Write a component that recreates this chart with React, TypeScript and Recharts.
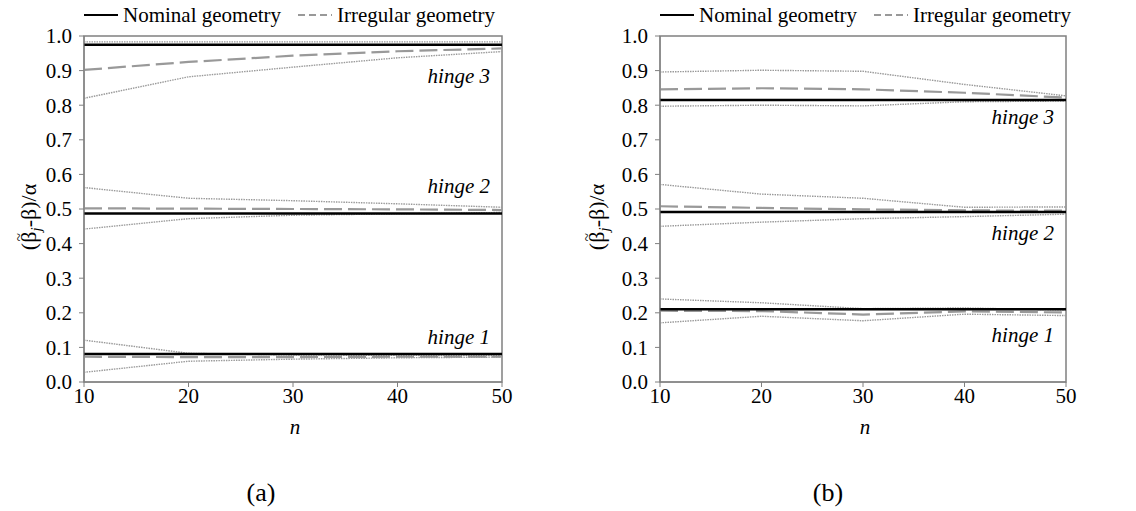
import React from 'react';
import { LineChart, Line, XAxis, YAxis, Legend, ReferenceArea, ReferenceDot } from 'recharts';

const nValues = [10, 20, 30, 40, 50];
const yTicks = [0, 0.1, 0.2, 0.3, 0.4, 0.5, 0.6, 0.7, 0.8, 0.9, 1.0];

// (a)
const aH1Nominal = [0.081, 0.081, 0.081, 0.081, 0.081];
const aH1Irregular = [0.073, 0.072, 0.072, 0.073, 0.073];
const aH1Upper = [0.121, 0.083, 0.078, 0.077, 0.076];
const aH1Lower = [0.028, 0.06, 0.066, 0.07, 0.072];
const aH2Nominal = [0.487, 0.487, 0.487, 0.487, 0.487];
const aH2Irregular = [0.502, 0.501, 0.5, 0.499, 0.497];
const aH2Upper = [0.562, 0.531, 0.524, 0.515, 0.505];
const aH2Lower = [0.442, 0.472, 0.482, 0.486, 0.49];
const aH3Nominal = [0.975, 0.975, 0.975, 0.975, 0.975];
const aH3Irregular = [0.902, 0.925, 0.943, 0.956, 0.964];
const aH3Upper = [0.983, 0.983, 0.983, 0.983, 0.983];
const aH3Lower = [0.82, 0.882, 0.91, 0.937, 0.955];

// (b)
const bH1Nominal = [0.21, 0.21, 0.21, 0.21, 0.21];
const bH1Irregular = [0.206, 0.205, 0.195, 0.204, 0.201];
const bH1Upper = [0.24, 0.229, 0.212, 0.214, 0.208];
const bH1Lower = [0.171, 0.19, 0.177, 0.196, 0.192];
const bH2Nominal = [0.491, 0.491, 0.491, 0.491, 0.491];
const bH2Irregular = [0.508, 0.503, 0.499, 0.496, 0.495];
const bH2Upper = [0.571, 0.543, 0.531, 0.505, 0.506];
const bH2Lower = [0.45, 0.462, 0.472, 0.478, 0.485];
const bH3Nominal = [0.815, 0.815, 0.815, 0.815, 0.815];
const bH3Irregular = [0.846, 0.849, 0.846, 0.836, 0.822];
const bH3Upper = [0.896, 0.901, 0.898, 0.86, 0.827];
const bH3Lower = [0.797, 0.8, 0.798, 0.81, 0.812];

// where the "hinge k" captions sit (value on y axis)
const aHingeLabelY = [0.13, 0.569, 0.887];
const bHingeLabelY = [0.136, 0.431, 0.766];

const serif = '"Liberation Serif", "Times New Roman", serif';
const frame = '#808080';

const buildRows = (s: Record<string, number[]>) =>
  nValues.map((n, i) => {
    const row: Record<string, number> = { n };
    Object.keys(s).forEach((k) => (row[k] = s[k][i]));
    return row;
  });

const dataA = buildRows({
  h1n: aH1Nominal, h1i: aH1Irregular, h1u: aH1Upper, h1l: aH1Lower,
  h2n: aH2Nominal, h2i: aH2Irregular, h2u: aH2Upper, h2l: aH2Lower,
  h3n: aH3Nominal, h3i: aH3Irregular, h3u: aH3Upper, h3l: aH3Lower,
});
const dataB = buildRows({
  h1n: bH1Nominal, h1i: bH1Irregular, h1u: bH1Upper, h1l: bH1Lower,
  h2n: bH2Nominal, h2i: bH2Irregular, h2u: bH2Upper, h2l: bH2Lower,
  h3n: bH3Nominal, h3i: bH3Irregular, h3u: bH3Upper, h3l: bH3Lower,
});

const LegendBox = () => (
  <div style={{ display: 'flex', alignItems: 'center', fontFamily: serif, fontSize: 21, lineHeight: '26px', whiteSpace: 'nowrap', color: '#000' }}>
    <svg width={34} height={10}><line x1={0} y1={5} x2={34} y2={5} stroke="#000" strokeWidth={2} /></svg>
    <span style={{ marginLeft: 5 }}>Nominal geometry</span>
    <svg width={34} height={10} style={{ marginLeft: 17 }}>
      <line x1={0} y1={5} x2={34} y2={5} stroke="#999" strokeWidth={2} strokeDasharray="7 4" />
    </svg>
    <span style={{ marginLeft: 5 }}>Irregular geometry</span>
  </div>
);

// (β̃j-β)/α, tilde drawn as its own raised glyph over the beta
const YLabel = ({ x, y }: { x: number; y: number }) => (
  <text transform={`translate(${x},${y}) rotate(-90)`} textAnchor="middle" fontFamily={serif} fontSize={22} fill="#000">
    (β
    <tspan dx={-9.5} dy={-12} fontSize={15}>~</tspan>
    <tspan dx={1.5} dy={17} fontStyle="italic" fontSize={15}>j</tspan>
    <tspan dy={-5}>-β)/α</tspan>
  </text>
);

interface PanelProps {
  data: Record<string, number>[];
  hingeY: number[];
  left: number;
  marginLeft: number;
  marginRight: number;
  caption: string;
  captionX: number;
}

const Panel: React.FC<PanelProps> = ({ data, hingeY, left, marginLeft, marginRight, caption, captionX }) => {
  const plotLeft = marginLeft + 50;
  const plotRight = 568 - marginRight;
  const cx = (plotLeft + plotRight) / 2;
  const dotted = { stroke: '#9a9a9a', strokeWidth: 1.4, strokeDasharray: '1.5 1', dot: false, isAnimationActive: false, type: 'linear' as const };
  const dashed = { stroke: '#999', strokeWidth: 2.2, strokeDasharray: '18 6', dot: false, isAnimationActive: false, type: 'linear' as const };
  const solid = { stroke: '#000', strokeWidth: 2.5, dot: false, isAnimationActive: false, type: 'linear' as const };
  return (
    <div style={{ position: 'absolute', left, top: 0, width: 568, height: 511 }}>
      <LineChart width={568} height={511} data={data} margin={{ top: 36, right: marginRight, bottom: 79, left: marginLeft }}>
        <XAxis
          dataKey="n"
          type="number"
          domain={[10, 50]}
          ticks={nValues}
          height={50}
          tickSize={5}
          tickMargin={1}
          axisLine={{ stroke: frame }}
          tickLine={{ stroke: frame }}
          tick={{ fill: '#000', fontSize: 21, fontFamily: serif }}
          label={{
            content: () => (
              <text x={cx + 2} y={434} textAnchor="middle" fontFamily={serif} fontSize={21} fontStyle="italic" fill="#000">n</text>
            ),
          }}
        />
        <YAxis
          type="number"
          domain={[0, 1]}
          ticks={yTicks}
          width={50}
          tickSize={5}
          tickMargin={7}
          tickFormatter={(v: number) => v.toFixed(1)}
          axisLine={{ stroke: frame }}
          tickLine={{ stroke: frame }}
          tick={{ fill: '#000', fontSize: 21, fontFamily: serif }}
          label={{ content: () => <YLabel x={36} y={217} /> }}
        />
        <ReferenceArea x1={10} x2={50} y1={0} y2={1} fill="none" stroke={frame} strokeWidth={1.5} strokeOpacity={1} />
        <Legend
          layout="horizontal"
          verticalAlign="middle"
          align="center"
          wrapperStyle={{ top: 2, left: plotLeft, width: 'auto' }}
          content={() => <LegendBox />}
        />
        <Line dataKey="h1u" {...dotted} />
        <Line dataKey="h1l" {...dotted} />
        <Line dataKey="h2u" {...dotted} />
        <Line dataKey="h2l" {...dotted} />
        <Line dataKey="h3u" {...dotted} />
        <Line dataKey="h3l" {...dotted} />
        <Line dataKey="h1i" {...dashed} />
        <Line dataKey="h2i" {...dashed} />
        <Line dataKey="h3i" {...dashed} />
        <Line dataKey="h1n" {...solid} />
        <Line dataKey="h2n" {...solid} />
        <Line dataKey="h3n" {...solid} />
        {hingeY.map((y, i) => (
          <ReferenceDot
            key={i}
            x={50}
            y={y}
            r={0}
            fill="none"
            stroke="none"
            label={{ value: `hinge ${i + 1}`, position: 'left', offset: 12, fill: '#000', fontSize: 21, fontFamily: serif, fontStyle: 'italic' }}
          />
        ))}
      </LineChart>
      <div style={{ position: 'absolute', left: captionX - 40, width: 80, top: 478, textAlign: 'center', fontFamily: serif, fontSize: 26, lineHeight: '30px', color: '#000' }}>
        {caption}
      </div>
    </div>
  );
};

export default function App() {
  return (
    <div style={{ position: 'absolute', left: 0, top: 0, width: 1136, height: 511, background: '#fff' }}>
      <Panel data={dataA} hingeY={aHingeLabelY} left={0} marginLeft={34} marginRight={66} caption="(a)" captionX={261} />
      <Panel data={dataB} hingeY={bHingeLabelY} left={568} marginLeft={42} marginRight={70} caption="(b)" captionX={260} />
    </div>
  );
}
